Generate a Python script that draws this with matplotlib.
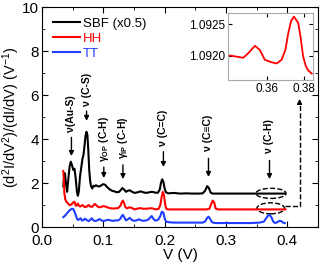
import matplotlib
matplotlib.use("Agg")
import matplotlib.pyplot as plt
from matplotlib.patches import Ellipse

plt.rcParams["font.family"] = ["Liberation Sans", "DejaVu Sans"]
plt.rcParams["mathtext.fontset"] = "custom"
plt.rcParams["mathtext.rm"] = "Liberation Sans"
plt.rcParams["mathtext.it"] = "Liberation Sans:italic"
plt.rcParams["mathtext.bf"] = "Liberation Sans:bold"

# SBF (scaled x0.5)
v_sbf = [0.0347, 0.0365, 0.0374, 0.039, 0.041, 0.043, 0.045, 0.047, 0.049, 0.051,
         0.053, 0.055, 0.057, 0.0585, 0.060, 0.062, 0.0645, 0.066, 0.0675, 0.069,
         0.071, 0.0725, 0.074, 0.0755, 0.077, 0.0785, 0.080, 0.082, 0.084, 0.086,
         0.088, 0.091, 0.094, 0.097, 0.100, 0.103, 0.106, 0.110, 0.114, 0.118,
         0.122, 0.126, 0.129, 0.131, 0.134, 0.137, 0.140, 0.143, 0.147, 0.151,
         0.156, 0.161, 0.165, 0.170, 0.175, 0.180, 0.185, 0.189, 0.192, 0.194,
         0.196, 0.198, 0.200, 0.202, 0.206, 0.215, 0.225, 0.235, 0.245, 0.255,
         0.262, 0.266, 0.2695, 0.272, 0.275, 0.278, 0.29, 0.31, 0.33, 0.35,
         0.37, 0.385, 0.396]
y_sbf = [1.85, 2.4, 2.45, 2.0, 1.6, 2.2, 2.75, 2.97, 2.8, 2.6,
         2.65, 2.2, 1.6, 1.42, 1.6, 2.3, 2.8, 3.1, 3.25, 3.6,
         4.15, 4.33, 4.2, 3.5, 2.6, 2.1, 1.85, 1.75, 1.88, 1.85,
         1.9, 1.85, 1.85, 1.9, 1.95, 1.92, 1.82, 1.72, 1.65, 1.62,
         1.58, 1.6, 1.7, 1.77, 1.7, 1.6, 1.65, 1.67, 1.6, 1.55,
         1.58, 1.62, 1.58, 1.55, 1.58, 1.6, 1.56, 1.56, 1.7, 2.0,
         2.17, 2.05, 1.75, 1.58, 1.53, 1.55, 1.52, 1.53, 1.52, 1.52,
         1.53, 1.65, 1.86, 1.78, 1.57, 1.52, 1.52, 1.52, 1.52, 1.52,
         1.52, 1.52, 1.52]

# HH
v_hh = [0.0347, 0.0355, 0.0365, 0.038, 0.040, 0.042, 0.045, 0.048, 0.051, 0.053,
        0.055, 0.057, 0.0585, 0.060, 0.062, 0.064, 0.066, 0.068, 0.070, 0.073,
        0.076, 0.079, 0.082, 0.086, 0.089, 0.092, 0.095, 0.098, 0.101, 0.104,
        0.108, 0.112, 0.116, 0.120, 0.124, 0.128, 0.1305, 0.132, 0.134, 0.136,
        0.139, 0.143, 0.147, 0.151, 0.155, 0.160, 0.165, 0.170, 0.175, 0.180,
        0.185, 0.190, 0.193, 0.195, 0.197, 0.199, 0.201, 0.203, 0.206, 0.215,
        0.23, 0.25, 0.268, 0.273, 0.276, 0.2785, 0.281, 0.283, 0.287, 0.30,
        0.32, 0.34, 0.36, 0.38, 0.397]
y_hh = [2.55, 2.2, 1.55, 1.25, 1.15, 1.08, 1.0, 1.02, 1.12, 1.15,
        0.97, 0.98, 1.07, 0.98, 0.93, 0.96, 1.0, 0.95, 0.9, 0.93,
        1.0, 0.93, 0.92, 1.05, 0.98, 0.9, 0.9, 0.93, 0.95, 0.92,
        0.88, 0.85, 0.84, 0.85, 0.86, 0.97, 1.15, 1.2, 1.08, 0.9,
        0.85, 0.9, 0.86, 0.8, 0.83, 0.86, 0.83, 0.83, 0.85, 0.85,
        0.8, 0.82, 1.0, 1.35, 1.6, 1.45, 1.0, 0.82, 0.8, 0.8,
        0.8, 0.8, 0.8, 0.83, 1.05, 1.2, 1.1, 0.85, 0.8, 0.8,
        0.8, 0.8, 0.8, 0.8, 0.8]

# TT
v_tt = [0.0347, 0.037, 0.040, 0.043, 0.046, 0.049, 0.051, 0.053, 0.055, 0.057,
        0.059, 0.061, 0.063, 0.065, 0.067, 0.070, 0.073, 0.076, 0.079, 0.081,
        0.084, 0.087, 0.090, 0.094, 0.097, 0.100, 0.104, 0.108, 0.112, 0.116,
        0.120, 0.124, 0.128, 0.130, 0.132, 0.134, 0.137, 0.140, 0.143, 0.146,
        0.150, 0.154, 0.158, 0.162, 0.166, 0.170, 0.174, 0.177, 0.179, 0.181,
        0.184, 0.187, 0.190, 0.193, 0.1955, 0.198, 0.200, 0.202, 0.206, 0.215,
        0.23, 0.25, 0.262, 0.266, 0.269, 0.2715, 0.274, 0.277, 0.282, 0.30,
        0.32, 0.34, 0.355, 0.362, 0.366, 0.369, 0.371, 0.374, 0.377, 0.380,
        0.384, 0.387, 0.390, 0.393, 0.396]
y_tt = [0.45, 0.5, 0.6, 0.7, 0.78, 0.83, 0.82, 0.7, 0.55, 0.38,
        0.32, 0.36, 0.4, 0.3, 0.3, 0.38, 0.32, 0.27, 0.33, 0.4,
        0.3, 0.27, 0.3, 0.36, 0.3, 0.27, 0.3, 0.33, 0.3, 0.28,
        0.3, 0.3, 0.38, 0.5, 0.55, 0.45, 0.3, 0.35, 0.42, 0.33,
        0.28, 0.3, 0.35, 0.3, 0.28, 0.3, 0.35, 0.45, 0.5, 0.4,
        0.3, 0.3, 0.35, 0.5, 0.7, 0.65, 0.4, 0.25, 0.22, 0.2,
        0.2, 0.2, 0.2, 0.25, 0.4, 0.47, 0.38, 0.22, 0.18, 0.18,
        0.18, 0.18, 0.2, 0.25, 0.42, 0.53, 0.55, 0.45, 0.25, 0.18,
        0.22, 0.28, 0.27, 0.2, 0.18]

# inset: HH around the C-H mode
v_inset = [0.3396, 0.3476, 0.3505, 0.3538, 0.3565, 0.359, 0.3625, 0.3653, 0.368,
           0.3700, 0.3715, 0.3730, 0.3745, 0.3768, 0.3780, 0.3794, 0.3808,
           0.3821, 0.384]
y_inset = [1.09201, 1.09197, 1.09205, 1.09216, 1.09209, 1.09194, 1.0919, 1.09188,
           1.09194, 1.09210, 1.09236, 1.09255, 1.09262, 1.09252, 1.09230,
           1.09199, 1.09184, 1.09177, 1.09172]

# mode labels: (x, text bottom, arrow tail, arrow tip, label)
mode_x = [0.048, 0.0727, 0.1008, 0.132, 0.198, 0.2715, 0.371]
mode_text_y = [4.3, 5.5, 2.97, 3.1, 3.7, 3.45, 3.35]
mode_tail = [4.2, 5.4, 2.85, 2.95, 3.55, 3.25, 3.15]
mode_tip = [3.1, 4.7, 2.1, 2.05, 2.6, 2.15, 2.05]
mode_labels = ["ν(Au-S)", "ν (C-S)", r"γ$_{\mathbf{OP}}$ (C-H)", r"γ$_{\mathbf{IP}}$ (C-H)",
               "ν (C=C)", "ν (C≡C)", "ν (C-H)"]

fig = plt.figure(figsize=(3.22, 2.72), dpi=100)
ax = fig.add_axes([0.1304, 0.1654, 0.857, 0.8086])

ax.plot(v_sbf, y_sbf, color="black", lw=1.5, label="SBF (x0.5)")
ax.plot(v_hh, y_hh, color="#ff0000", lw=1.5, label="HH")
ax.plot(v_tt, y_tt, color="#1f3cff", lw=1.5, label="TT")

ax.set_xlim(0, 0.45)
ax.set_ylim(0, 10)
ax.set_xticks([0.0, 0.1, 0.2, 0.3, 0.4])
ax.set_xticks([0.05, 0.15, 0.25, 0.35], minor=True)
ax.set_yticks([0, 2, 4, 6, 8, 10])
ax.set_yticks([1, 3, 5, 7, 9], minor=True)
ax.tick_params(which="both", direction="in", top=True, right=True, labelsize=11)
ax.tick_params(which="major", length=4)
ax.tick_params(which="minor", length=2)
ax.tick_params(axis="y", pad=2)
ax.tick_params(axis="x", pad=5)
ax.set_xlabel("V (V)", fontsize=11, labelpad=0)
ax.set_ylabel(r"(d$^2$I/dV$^2$)/(dI/dV) (V$^{-1}$)", fontsize=10.5, labelpad=0)

leg = ax.legend(loc="upper left", frameon=False, fontsize=9.5, handlelength=2.1,
                handletextpad=0.2, labelspacing=0.2, borderaxespad=0.4,
                labelcolor="linecolor")

for x, ty, tail, tip, lab in zip(mode_x, mode_text_y, mode_tail, mode_tip, mode_labels):
    ax.annotate("", xy=(x, tip), xytext=(x, tail),
                arrowprops=dict(arrowstyle="-|>", color="black", lw=1, mutation_scale=7))
    ax.text(x, ty, lab, rotation=90, ha="center", va="bottom", fontsize=7.5,
            fontweight="bold")

ax.add_patch(Ellipse((0.3735, 1.53), 0.049, 0.46, fill=False, ls="--", ec="black", lw=1))
ax.add_patch(Ellipse((0.373, 0.85), 0.045, 0.5, fill=False, ls="--", ec="black", lw=1))
ax.plot([0.397, 0.42, 0.42], [0.95, 0.95, 5.6], color="black", lw=1, ls="--")
ax.annotate("", xy=(0.42, 5.95), xytext=(0.42, 5.55),
            arrowprops=dict(arrowstyle="-|>", color="black", lw=1, mutation_scale=7))

ins = fig.add_axes([0.707, 0.706, 0.266, 0.247])
ins.plot(v_inset, y_inset, color="#ff0000", lw=1.3)
ins.set_xlim(0.3393, 0.3848)
ins.set_ylim(1.09162, 1.09268)
ins.set_xticks([0.36, 0.38])
ins.set_yticks([1.0920, 1.0925])
ins.set_xticklabels(["0.36", "0.38"])
ins.set_yticklabels(["1.0920", "1.0925"])
ins.tick_params(direction="in", top=True, right=True, labelsize=8.5, length=3, pad=2)
for s in ins.spines.values():
    s.set_color("#aaaaaa")

fig.savefig("out.png", dpi=100)
